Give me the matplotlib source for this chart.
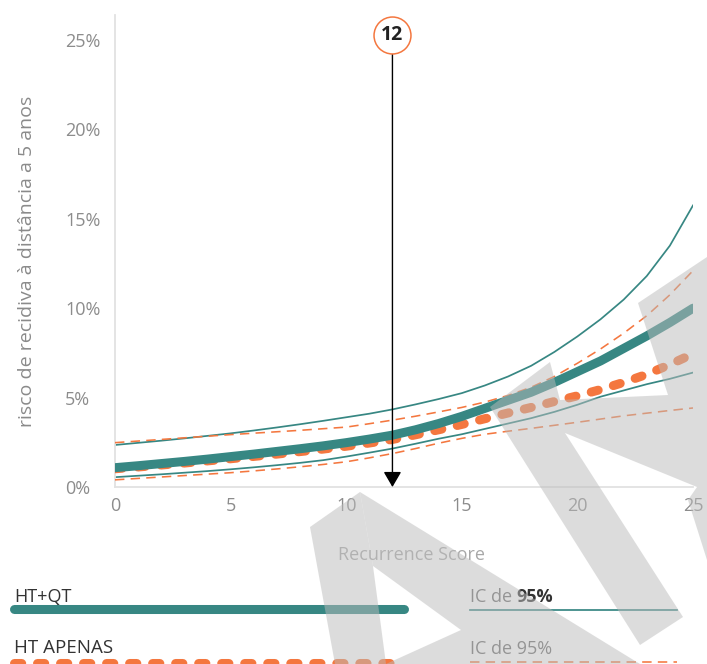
import matplotlib
matplotlib.use("Agg")
import matplotlib.pyplot as plt
from matplotlib.lines import Line2D
from matplotlib.patches import Polygon

plt.rcParams['font.family'] = ['Open Sans', 'DejaVu Sans']

# ---------------- data ----------------
score = list(range(0, 26))
ht_qt = [1.08, 1.19, 1.31, 1.43, 1.56, 1.70, 1.84, 1.99, 2.14, 2.30, 2.48, 2.68, 2.90,
         3.20, 3.55, 3.95, 4.40, 4.85, 5.30, 5.85, 6.45, 7.05, 7.75, 8.45, 9.20, 10.0]
ht_qt_hi = [2.35, 2.47, 2.59, 2.72, 2.86, 3.00, 3.16, 3.33, 3.51, 3.70, 3.90, 4.10, 4.34,
            4.62, 4.92, 5.25, 5.68, 6.18, 6.78, 7.55, 8.42, 9.38, 10.48, 11.80, 13.50, 15.75]
ht_qt_lo = [0.55, 0.63, 0.71, 0.80, 0.89, 0.99, 1.10, 1.22, 1.35, 1.50, 1.70, 1.92, 2.15,
            2.42, 2.70, 2.95, 3.25, 3.55, 3.85, 4.20, 4.60, 5.05, 5.40, 5.75, 6.05, 6.40]
ht_only = [1.02, 1.12, 1.23, 1.34, 1.46, 1.58, 1.71, 1.84, 1.98, 2.12, 2.28, 2.46, 2.66,
           2.92, 3.20, 3.50, 3.82, 4.14, 4.45, 4.78, 5.10, 5.45, 5.85, 6.30, 6.85, 7.45]
ht_only_hi = [2.48, 2.57, 2.66, 2.75, 2.84, 2.93, 3.01, 3.09, 3.17, 3.26, 3.35, 3.54, 3.74,
              3.96, 4.20, 4.45, 4.75, 5.12, 5.58, 6.18, 6.92, 7.72, 8.60, 9.58, 10.75, 12.1]
ht_only_lo = [0.40, 0.48, 0.56, 0.64, 0.72, 0.80, 0.90, 1.01, 1.13, 1.26, 1.41, 1.63, 1.87,
              2.15, 2.45, 2.72, 2.95, 3.12, 3.28, 3.45, 3.62, 3.80, 3.98, 4.13, 4.28, 4.42]
marker_score = 12
marker_label = "12"
x_ticks = [0, 5, 10, 15, 20, 25]
y_ticks = [0, 5, 10, 15, 20, 25]
y_tick_labels = ["0%", "5%", "10%", "15%", "20%", "25%"]
x_title = "Recurrence Score"
y_title = "risco de recidiva à distância a 5 anos"
legend_a = "HT+QT"
legend_b = "HT APENAS"
legend_ci_prefix = "IC de "
legend_ci_value = "95%"

TEAL = '#378783'
ORANGE = '#f4773f'
THICK_DASH = (0.8, 1.75)
THIN_DASH = (5.9, 3.9)

W, H = 707, 664
fig = plt.figure(figsize=(W / 100, H / 100), dpi=100)
fig.patch.set_facecolor('white')

def fx(px):
    return px / W

def fy(py):
    return 1 - py / H

ax = fig.add_axes([fx(115), fy(487), 578 / W, 472 / H])
ax.set_xlim(0, 25)
ax.set_ylim(0, 26.4)

# CI lines
ax.plot(score, ht_qt_hi, color=TEAL, lw=1.25, zorder=2)
ax.plot(score, ht_qt_lo, color=TEAL, lw=1.25, zorder=2)
ax.plot(score, ht_only_hi, color=ORANGE, lw=1.15, zorder=3, dashes=THIN_DASH)
ax.plot(score, ht_only_lo, color=ORANGE, lw=1.15, zorder=3, dashes=THIN_DASH)
# main lines
ax.plot(score, ht_only, color=ORANGE, lw=6.5, zorder=4, dashes=THICK_DASH,
        dash_capstyle='round')
ax.plot(score, ht_qt, color=TEAL, lw=6.5, zorder=5, solid_capstyle='round')

# marker arrow
ax.annotate("", xy=(marker_score, 0), xytext=(marker_score, 24.25),
            arrowprops=dict(arrowstyle='-|>,head_length=0.6,head_width=0.35',
                            mutation_scale=15.6, lw=1.0, color='black',
                            shrinkA=0, shrinkB=0), zorder=6)
ax.plot([marker_score], [25.3], marker='o', ms=26.6, mfc='white', mec=ORANGE,
        mew=1.1, zorder=7, clip_on=False)
ax.text(marker_score, 25.3, marker_label, ha='center', va='center', fontsize=14,
        fontweight='bold', color='#222222', zorder=8)

# axes styling
for s in ['top', 'right']:
    ax.spines[s].set_visible(False)
for s in ['left', 'bottom']:
    ax.spines[s].set_color('#e2e2e2')
    ax.spines[s].set_linewidth(1.3)
ax.set_xticks(x_ticks)
ax.set_yticks(y_ticks)
ax.set_yticklabels(y_tick_labels)
ax.tick_params(axis='both', length=0, labelsize=13, labelcolor='#8c8c8c')
ax.tick_params(axis='x', pad=7)
ax.tick_params(axis='y', pad=36)
for lab in ax.get_yticklabels():
    lab.set_horizontalalignment('left')

ax.set_xlabel(x_title, fontsize=13, color='#a8a8a8', va='center')
ax.xaxis.set_label_coords((411 - 115) / 578, (487 - 555) / 472)
ax.set_ylabel(y_title, fontsize=14, color='#8a8a8a', va='center', ha='center')
ax.yaxis.set_label_coords((27 - 115) / 578, (487 - 261) / 472)

# legend (figure coordinates)
fig.text(fx(14), fy(597), legend_a, fontsize=13, color='#333333', va='center', ha='left')
fig.add_artist(Line2D([fx(14), fx(404)], [fy(609), fy(609)], transform=fig.transFigure,
                      color=TEAL, lw=6.5, solid_capstyle='round'))
fig.text(fx(14), fy(648), legend_b, fontsize=13.5, color='#333333', va='center', ha='left')
fig.add_artist(Line2D([fx(14), fx(404)], [fy(663), fy(663)], transform=fig.transFigure,
                      color=ORANGE, lw=6.5, dashes=THICK_DASH, dash_capstyle='round'))

t1 = fig.text(fx(470), fy(597), legend_ci_prefix, fontsize=13, color='#6e6e6e',
              va='center', ha='left')
fig.canvas.draw()
bb = t1.get_window_extent()
fig.text(bb.x1 / W, fy(597), legend_ci_value, fontsize=13, color='#333333',
         fontweight='bold', va='center', ha='left')
fig.add_artist(Line2D([fx(470), fx(677)], [fy(610), fy(610)], transform=fig.transFigure,
                      color=TEAL, lw=1.25))
fig.text(fx(470), fy(649), legend_ci_prefix + legend_ci_value, fontsize=13,
         color='#6e6e6e', va='center', ha='left')
fig.add_artist(Line2D([fx(470), fx(677)], [fy(662), fy(662)], transform=fig.transFigure,
                      color=ORANGE, lw=1.15, dashes=THIN_DASH))

# watermark (semi-transparent gray shapes, pixel outlines)
wm_shapes = [
    [(310, 527), (360, 492), (373, 566), (386, 664), (335, 664)],
    [(360, 492), (640, 664), (386, 664), (461, 630), (373, 566)],
    [(640, 645), (490, 407), (550, 362), (560, 400), (668, 395), (638, 303),
     (707, 257), (707, 560), (688, 500), (697, 487), (565, 433), (683, 617)],
]
for shp in wm_shapes:
    fig.add_artist(Polygon([(fx(x), fy(y)) for x, y in shp], closed=True,
                           transform=fig.transFigure, facecolor='#bbbbbb',
                           edgecolor='none', alpha=0.5, zorder=20))

fig.savefig('out.png', dpi=100)
